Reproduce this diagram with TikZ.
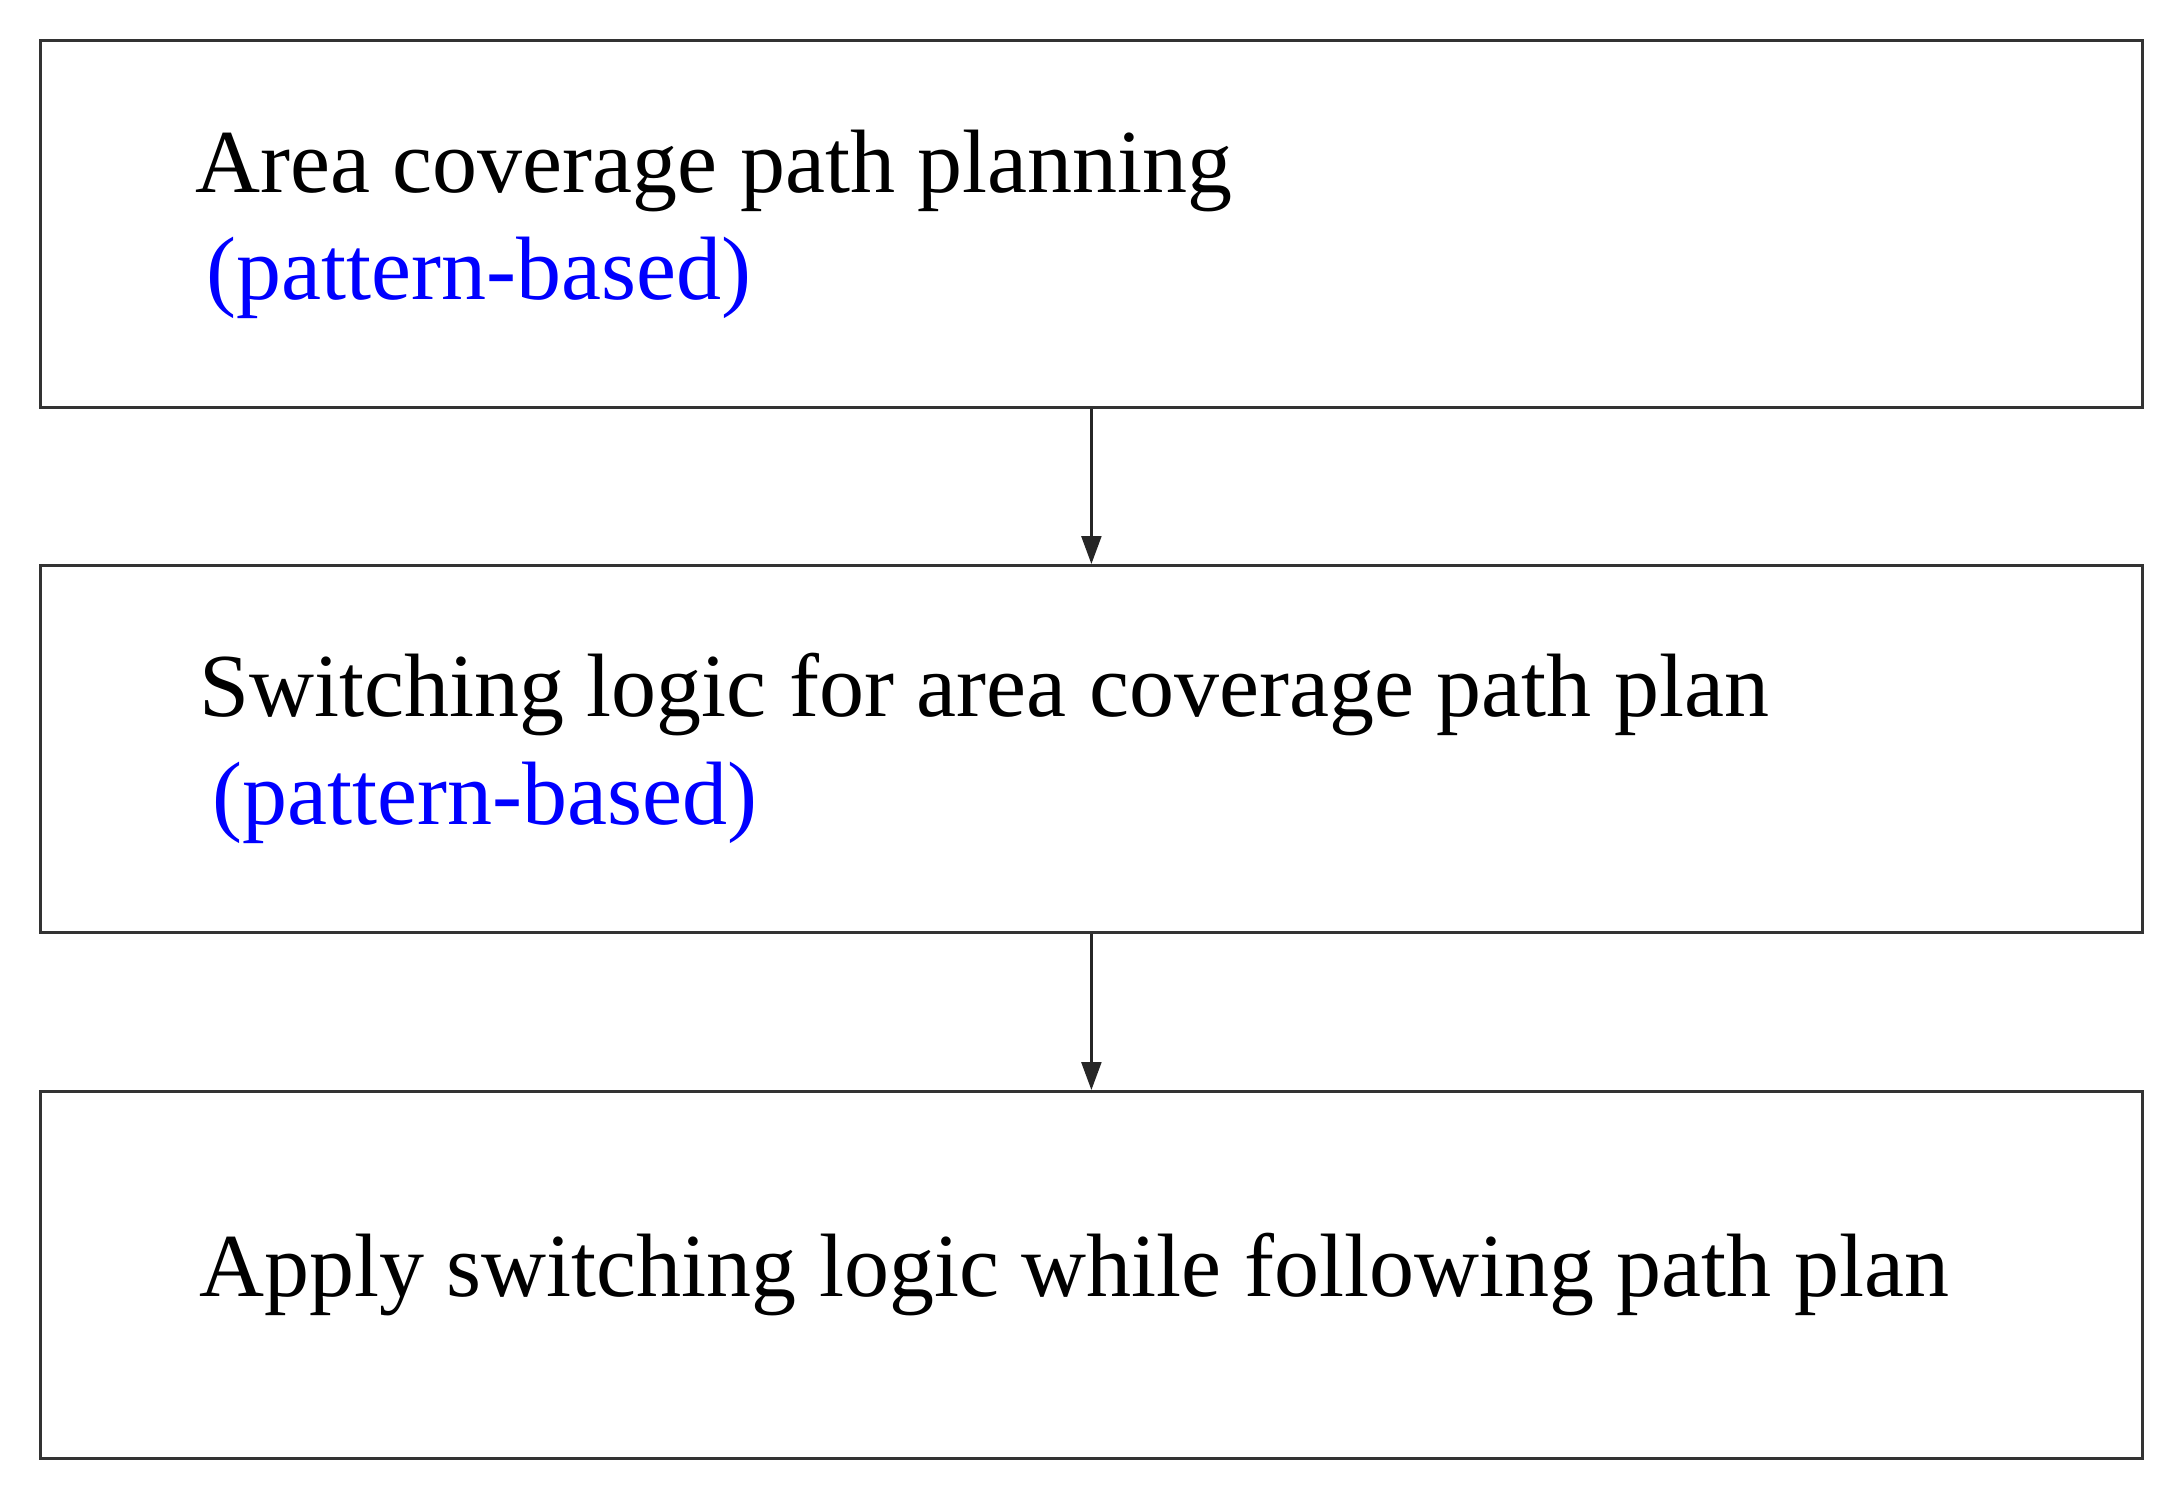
\documentclass[tikz,border=0pt]{standalone}
\usepackage{fontspec}
\setmainfont{Liberation Serif}
\usetikzlibrary{arrows.meta}
\begin{document}
\begin{tikzpicture}[x=0.5pt,y=-0.5pt,
  box/.style={draw=black!80,line width=1.4pt,minimum width=1051pt,minimum height=183.5pt,inner sep=0,anchor=north west},
  txt/.style={anchor=base west,inner sep=0,font=\fontsize{45}{54}\selectfont},
  blu/.style={txt,text=blue},
  arr/.style={draw=black!85,line width=1.2pt,-{Triangle[length=14pt,width=10pt]}}]
\useasboundingbox (0,0) rectangle (2180,1504);
\node[box] (b1) at (39,39) {};
\node[box] (b2) at (39,564) {};
\node[box] (b3) at (39,1090) {};
\node[txt] (t1) at (195,192) {Area coverage path planning};
\node[blu] (t1b) at (206,299) {(pattern-based)};
\node[txt] (t2) at (199,716) {Switching logic for area coverage path plan};
\node[blu] (t2b) at (212,824) {(pattern-based)};
\node[txt] (t3) at (199,1296) {Apply switching logic while following path plan};
\draw[arr] (b1.south) -- (b2.north);
\draw[arr] (b2.south) -- (b3.north);
\end{tikzpicture}
\end{document}
